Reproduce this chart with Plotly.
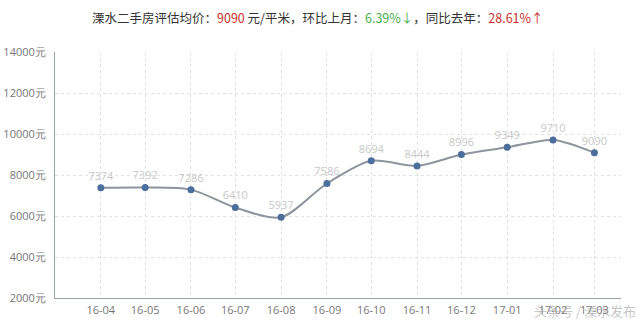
import plotly.graph_objects as go

months = ["2016-04-01", "2016-05-01", "2016-06-01", "2016-07-01", "2016-08-01", "2016-09-01",
          "2016-10-01", "2016-11-01", "2016-12-01", "2017-01-01", "2017-02-01", "2017-03-01"]
prices = [7374, 7392, 7286, 6410, 5937, 7586, 8694, 8444, 8996, 9349, 9710, 9090]
y_ticks = [2000, 4000, 6000, 8000, 10000, 12000, 14000]
y_tick_labels = [f"{v}元" for v in y_ticks]

fig = go.Figure()
fig.add_trace(go.Scatter(
    x=months, y=prices, mode="lines+markers+text",
    line=dict(color="#8f949c", width=2, shape="spline", smoothing=0.8),
    marker=dict(color="#4c6e9c", size=7),
    text=[str(v) for v in prices], textposition="top center",
    textfont=dict(color="#c8c8c8", size=11, family="Open Sans"),
    cliponaxis=False, hoverinfo="x+y",
))

title_html = ("<span style='color:#333'>溧水二手房评估均价：</span>"
              "<span style='color:#c9302c'>9090</span>"
              "<span style='color:#333'> 元/平米，环比上月：</span>"
              "<span style='color:#4cae4c'>6.39%↓</span>"
              "<span style='color:#333'>，同比去年：</span>"
              "<span style='color:#c9302c'>28.61%↑</span>")

fig.add_annotation(text=title_html, xref="paper", yref="paper", x=0.465, y=1.0,
                   yanchor="middle", yshift=35, showarrow=False,
                   font=dict(size=12.5, family="Noto Sans CJK SC"))
fig.add_annotation(text="头条号 / 溧水发布", xref="paper", yref="paper", x=1.03, y=0,
                   xanchor="right", yanchor="middle", yshift=-12, showarrow=False,
                   font=dict(size=13, color="rgba(160,160,160,0.6)", family="Noto Sans CJK SC"))

fig.update_layout(
    width=640, height=321,
    margin=dict(l=55, r=19, t=52, b=23, autoexpand=False),
    paper_bgcolor="white", plot_bgcolor="white",
    showlegend=False,
    font=dict(family="Open Sans", color="#666", size=11),
    xaxis=dict(
        type="date", range=["2016-03-01", "2017-03-19"],
        tickvals=months, tickformat="%y-%m", automargin=False,
        showgrid=True, gridcolor="#e2e2e2", griddash="dot", gridwidth=1,
        showline=True, linecolor="#9aa0a8", linewidth=1,
        ticks="", tickfont=dict(size=11, color="#777"), zeroline=False,
        ticklabelstandoff=2,
    ),
    yaxis=dict(
        range=[2000, 14000], tickvals=y_ticks, ticktext=y_tick_labels,
        showgrid=True, gridcolor="#e2e2e2", griddash="dot", gridwidth=1,
        showline=True, linecolor="#9aa0a8", linewidth=1, automargin=False,
        ticks="", tickfont=dict(size=11, color="#777"), zeroline=False,
        ticklabelstandoff=6,
    ),
)

fig.write_html("out.html")
